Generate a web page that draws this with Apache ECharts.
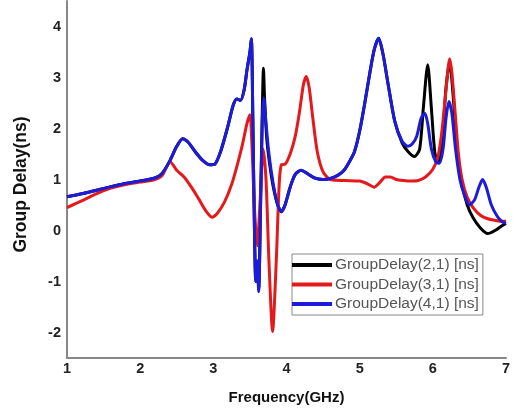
<!DOCTYPE html>
<html>
<head>
<meta charset="utf-8">
<script src="https://cdn.jsdelivr.net/npm/echarts@6/dist/echarts.min.js"></script>
<style>
html,body{margin:0;padding:0;background:#fff;}
#chart{width:515px;height:411px;}
</style>
</head>
<body>
<div id="chart"></div>
<script>
// ---- data ----
const seriesNames = ['GroupDelay(2,1) [ns]', 'GroupDelay(3,1) [ns]', 'GroupDelay(4,1) [ns]'];
const xTicks = [1, 2, 3, 4, 5, 6, 7];
const yTicks = [-2, -1, 0, 1, 2, 3, 4];

// GroupDelay(4,1) – blue
const freq41 = [1.0,1.2,1.4,1.6,1.8,2.0,2.2,2.3,2.4,2.5,2.58,2.65,2.75,2.85,2.95,3.02,3.1,3.2,3.27,3.32,3.37,3.42,3.46,3.5,3.52,3.54,3.56,3.58,3.60,3.62,3.645,3.67,3.69,3.72,3.76,3.82,3.88,3.93,3.98,4.05,4.12,4.2,4.28,4.38,4.5,4.6,4.7,4.78,4.86,4.93,5.0,5.07,5.14,5.2,5.26,5.32,5.39,5.48,5.58,5.66,5.72,5.78,5.84,5.89,5.93,5.98,6.04,6.09,6.14,6.18,6.22,6.26,6.31,6.37,6.43,6.5,6.57,6.63,6.68,6.73,6.8,6.88,6.95,7.0];
const delay41 = [0.66,0.72,0.79,0.86,0.92,0.97,1.03,1.12,1.35,1.65,1.80,1.74,1.55,1.38,1.29,1.30,1.55,2.05,2.45,2.58,2.55,2.75,3.15,3.5,3.76,2.2,0.2,-1.0,-0.6,-1.2,0.4,2.2,2.6,2.1,1.5,0.9,0.5,0.37,0.5,0.85,1.1,1.18,1.12,1.03,1.0,1.02,1.08,1.17,1.35,1.55,1.95,2.5,3.1,3.55,3.77,3.45,2.86,2.14,1.75,1.65,1.7,1.85,2.2,2.3,2.1,1.6,1.35,1.32,1.6,2.2,2.53,2.3,1.6,1.0,0.7,0.5,0.6,0.85,1.0,0.85,0.5,0.28,0.17,0.14];

// GroupDelay(2,1) – black
const freq21 = [1.0,1.2,1.4,1.6,1.8,2.0,2.2,2.3,2.4,2.5,2.58,2.65,2.75,2.85,2.95,3.02,3.1,3.2,3.27,3.32,3.37,3.42,3.46,3.5,3.52,3.54,3.56,3.58,3.60,3.62,3.645,3.67,3.685,3.70,3.73,3.77,3.82,3.88,3.93,3.98,4.05,4.12,4.2,4.28,4.38,4.5,4.6,4.7,4.78,4.86,4.93,5.0,5.07,5.14,5.2,5.26,5.32,5.39,5.48,5.58,5.66,5.75,5.82,5.87,5.93,5.98,6.03,6.08,6.13,6.18,6.23,6.28,6.33,6.4,6.47,6.55,6.65,6.75,6.85,6.95,7.0];
const delay21 = [0.66,0.72,0.79,0.86,0.92,0.97,1.03,1.12,1.35,1.65,1.80,1.74,1.55,1.38,1.29,1.30,1.55,2.05,2.45,2.58,2.55,2.75,3.15,3.5,3.76,2.2,0.2,-1.0,-0.6,-1.15,0.5,2.4,3.18,2.6,1.8,1.3,0.85,0.5,0.37,0.5,0.85,1.1,1.18,1.12,1.03,1.0,1.02,1.08,1.17,1.35,1.55,1.95,2.5,3.1,3.55,3.77,3.45,2.86,2.14,1.72,1.55,1.45,1.6,2.4,3.25,2.4,1.5,1.35,1.8,2.8,3.3,2.6,1.6,0.9,0.5,0.25,0.05,-0.06,0.0,0.1,0.14];

// GroupDelay(3,1) – red
const freq31 = [1.0,1.2,1.4,1.6,1.8,2.0,2.2,2.3,2.41,2.5,2.6,2.7,2.8,2.9,2.98,3.05,3.15,3.25,3.33,3.4,3.46,3.5,3.53,3.56,3.6,3.64,3.68,3.72,3.76,3.81,3.86,3.9,3.93,3.98,4.05,4.12,4.18,4.23,4.27,4.31,4.36,4.42,4.5,4.6,4.8,5.0,5.1,5.2,5.28,5.35,5.42,5.5,5.6,5.7,5.8,5.9,6.0,6.07,6.12,6.17,6.21,6.23,6.26,6.3,6.35,6.4,6.47,6.55,6.65,6.75,6.85,6.95,7.0];
const delay31 = [0.45,0.58,0.72,0.83,0.9,0.95,1.0,1.08,1.35,1.18,1.05,0.85,0.62,0.38,0.26,0.33,0.55,0.9,1.3,1.7,2.1,2.27,1.6,0.5,-0.3,0.6,1.6,1.0,-0.6,-1.98,-0.6,0.9,1.29,1.3,1.5,1.85,2.35,2.85,3.02,2.8,2.2,1.55,1.15,1.0,0.98,0.97,0.92,0.85,0.95,1.05,1.05,1.0,0.98,0.97,0.98,1.05,1.2,1.45,1.9,2.6,3.2,3.37,3.1,2.4,1.5,1.0,0.65,0.45,0.3,0.23,0.2,0.18,0.18];

const lineColors = ['#000000', '#e3191b', '#1b1bd9'];

function pairs(xs, ys) { return xs.map((x, i) => [x, ys[i]]); }

const chart = echarts.init(document.getElementById('chart'));
const tickFont = {fontFamily: 'Liberation Sans, Arial, sans-serif', fontWeight: 'bold', fontSize: 14.5, color: '#222'};

chart.setOption({
  animation: false,
  backgroundColor: '#ffffff',
  grid: {left: 67, right: 9, top: 1, bottom: 53},
  legend: {
    orient: 'vertical',
    left: 292, top: 254,
    data: seriesNames,
    icon: 'rect',
    itemWidth: 40, itemHeight: 4,
    itemGap: 1.5,
    padding: [2, 4, 2, 0],
    borderColor: '#888', borderWidth: 1,
    backgroundColor: '#fff',
    textStyle: {fontFamily: 'Liberation Sans, Arial, sans-serif', fontSize: 15.5, color: '#555', lineHeight: 18, padding: [0,0,0,-2]}
  },
  xAxis: {
    type: 'value', min: 1, max: 7, interval: 1,
    name: 'Frequency(GHz)', nameLocation: 'middle', nameGap: 32,
    nameTextStyle: {fontFamily: 'Liberation Sans, Arial, sans-serif', fontWeight: 'bold', fontSize: 15, color: '#111'},
    axisLine: {show: true, onZero: false, lineStyle: {color: '#888', width: 2}},
    axisTick: {show: false},
    splitLine: {show: false},
    axisLabel: Object.assign({margin: 3, formatter: v => xTicks.includes(v) ? String(v) : ''}, tickFont)
  },
  yAxis: {
    type: 'value', min: -2.5, max: 4.5, interval: 0.5,
    name: 'Group Delay(ns)', nameLocation: 'middle', nameGap: 37,
    nameTextStyle: {fontFamily: 'Liberation Sans, Arial, sans-serif', fontWeight: 'bold', fontSize: 17.5, color: '#111', padding: [0, 0, 0, -10]},
    axisLine: {show: true, onZero: false, lineStyle: {color: '#888', width: 2}},
    axisTick: {show: false},
    splitLine: {show: false},
    axisLabel: Object.assign({margin: 6, formatter: v => yTicks.includes(v) ? String(v) : ''}, tickFont)
  },
  series: [
    {name: seriesNames[0], type: 'line', data: pairs(freq21, delay21), color: lineColors[0], showSymbol: false, smooth: 0.25, lineStyle: {width: 3}},
    {name: seriesNames[1], type: 'line', data: pairs(freq31, delay31), color: lineColors[1], showSymbol: false, smooth: 0.25, lineStyle: {width: 3}},
    {name: seriesNames[2], type: 'line', data: pairs(freq41, delay41), color: lineColors[2], showSymbol: false, smooth: 0.25, lineStyle: {width: 3}}
  ]
});
</script>
</body>
</html>
